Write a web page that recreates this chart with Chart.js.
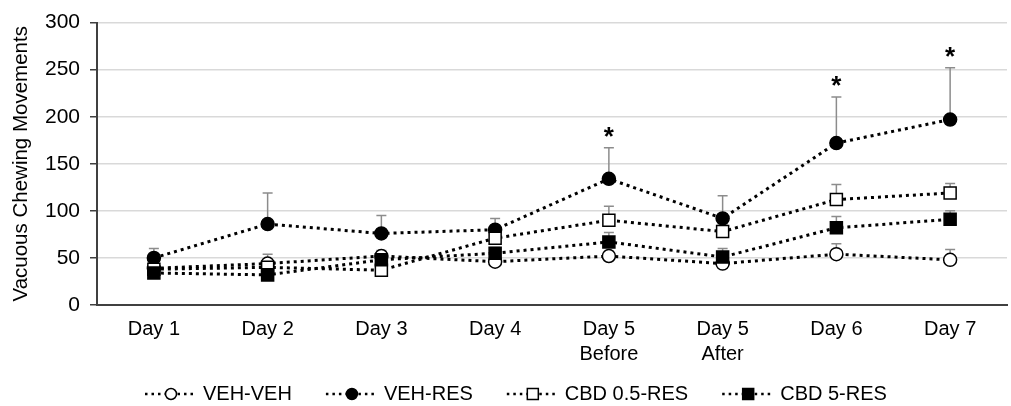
<!DOCTYPE html>
<html>
<head>
<meta charset="utf-8">
<script src="https://cdn.jsdelivr.net/npm/chart.js@4/dist/chart.umd.min.js"></script>
<style>
  html, body { margin: 0; padding: 0; background: #fff; overflow: hidden; }
  #wrap { width: 1017px; height: 406px; position: relative; }
</style>
</head>
<body>
<div id="wrap"><canvas id="chart"></canvas></div>
<script>
const days = ["Day 1", "Day 2", "Day 3", "Day 4", ["Day 5", "Before"], ["Day 5", "After"], "Day 6", "Day 7"];
const yTicks = [0, 50, 100, 150, 200, 250, 300];

const vehVeh = [39, 44, 52, 46, 52, 44, 54, 48];
const vehVehErr = [5, 10, 6, 5, 5, 4, 11, 11];
const vehRes = [50, 86, 76, 80, 134, 92, 172, 197];
const vehResErr = [10, 33, 19, 12, 33, 24, 49, 55];
const cbd05Res = [38, 40, 37, 71, 90, 78, 112, 119];
const cbd05ResErr = [4, 6, 8, 8, 15, 8, 16, 10];
const cbd5Res = [34, 32, 48, 55, 67, 51, 82, 91];
const cbd5ResErr = [4, 4, 5, 6, 10, 9, 12, 9];
const stars = ["", "", "", "", "*", "", "*", "*"];

const FONT = "'Liberation Sans', Arial, sans-serif";

const series = [
  { label: "VEH-VEH", data: vehVeh, err: vehVehErr, style: "circle", fill: "#fff", order: 4 },
  { label: "VEH-RES", data: vehRes, err: vehResErr, style: "circle", fill: "#000", order: 3 },
  { label: "CBD 0.5-RES", data: cbd05Res, err: cbd05ResErr, style: "rect", fill: "#fff", order: 2 },
  { label: "CBD 5-RES", data: cbd5Res, err: cbd5ResErr, style: "rect", fill: "#000", order: 1 },
];

// upper error bars, drawn under the markers
const errorBars = {
  id: "errorBars",
  beforeDatasetsDraw(chart) {
    const { ctx, scales } = chart;
    ctx.save();
    ctx.strokeStyle = "#8c8c8c";
    ctx.lineWidth = 1.5;
    series.forEach((s) => {
      s.data.forEach((v, i) => {
        const x = scales.x.getPixelForValue(i);
        const y0 = scales.y.getPixelForValue(v);
        const y1 = scales.y.getPixelForValue(v + s.err[i]);
        ctx.beginPath();
        ctx.moveTo(x, y0);
        ctx.lineTo(x, y1);
        ctx.moveTo(x - 5, y1);
        ctx.lineTo(x + 5, y1);
        ctx.stroke();
      });
    });
    ctx.restore();
  },
  afterDatasetsDraw(chart) {
    // significance marks over VEH-RES
    const { ctx, scales } = chart;
    ctx.save();
    ctx.fillStyle = "#000";
    ctx.font = "bold 26px " + FONT;
    ctx.textAlign = "center";
    ctx.textBaseline = "alphabetic";
    stars.forEach((t, i) => {
      if (!t) return;
      const x = scales.x.getPixelForValue(i);
      const y = scales.y.getPixelForValue(vehRes[i] + vehResErr[i]);
      ctx.fillText(t, x, y - 3);
    });
    ctx.restore();
  },
};

// legend with a dotted line through each marker
const lineLegend = {
  id: "lineLegend",
  afterDraw(chart) {
    const ctx = chart.ctx;
    const y = 394;
    let x = 145;
    ctx.save();
    ctx.font = "20px " + FONT;
    ctx.textBaseline = "middle";
    ctx.textAlign = "left";
    series.forEach((s) => {
      ctx.strokeStyle = "#000";
      ctx.lineWidth = 2.5;
      ctx.setLineDash([2.5, 4]);
      ctx.beginPath();
      ctx.moveTo(x, y);
      ctx.lineTo(x + 52, y);
      ctx.stroke();
      ctx.setLineDash([]);
      ctx.fillStyle = s.fill;
      ctx.lineWidth = 1.5;
      ctx.beginPath();
      if (s.style === "circle") {
        ctx.arc(x + 26, y, 5.5, 0, Math.PI * 2);
      } else {
        ctx.rect(x + 26 - 5.5, y - 5.5, 11, 11);
      }
      ctx.fill();
      ctx.stroke();
      ctx.fillStyle = "#000";
      const tx = x + 58;
      ctx.fillText(s.label, tx, y);
      x = tx + ctx.measureText(s.label).width + 34;
    });
    ctx.restore();
  },
};

const ctx = document.getElementById("chart").getContext("2d");
new Chart(ctx, {
  type: "line",
  data: {
    labels: days,
    datasets: series.map((s) => ({
      label: s.label,
      data: s.data,
      order: s.order,
      borderColor: "#000",
      borderWidth: 3,
      borderDash: [3, 4],
      pointStyle: s.style,
      pointRadius: s.style === "circle" ? 6.5 : 8.5,
      pointBorderWidth: 1.5,
      pointBackgroundColor: s.fill,
      pointBorderColor: "#000",
      tension: 0,
      fill: false,
    })),
  },
  options: {
    responsive: true,
    maintainAspectRatio: false,
    animation: false,
    layout: { padding: { top: 21, right: 0, bottom: 0, left: 0 } },
    plugins: {
      legend: { display: false },
      tooltip: { enabled: false },
    },
    scales: {
      x: {
        offset: true,
        grid: { display: false, drawTicks: false },
        border: { color: "#404040", width: 2 },
        ticks: { color: "#000", font: { family: FONT, size: 20, lineHeight: 1.25 }, padding: 12, maxRotation: 0, autoSkip: false },
        afterFit(scale) { scale.height = 101; },
      },
      y: {
        min: 0,
        max: 300,
        afterBuildTicks(scale) { scale.ticks = yTicks.map((v) => ({ value: v })); },
        grid: { color: "#d9d9d9", lineWidth: 1.5, tickColor: "#404040", tickLength: 7 },
        border: { color: "#404040", width: 2 },
        ticks: { color: "#000", font: { family: FONT, size: 21 }, padding: 10 },
        title: { display: true, text: "Vacuous Chewing Movements", color: "#000", font: { family: FONT, size: 20.5 }, padding: { top: 9, bottom: 0 } },
        afterFit(scale) { scale.width = 97; },
      },
    },
  },
  plugins: [errorBars, lineLegend],
});
</script>
</body>
</html>
